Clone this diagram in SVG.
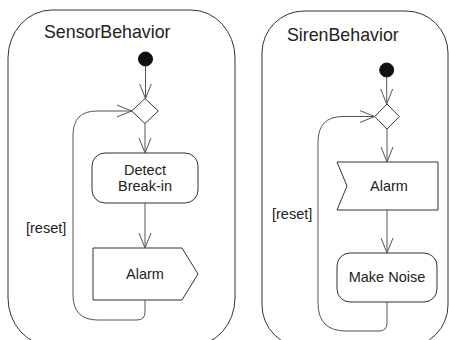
<svg xmlns="http://www.w3.org/2000/svg" width="449" height="340" viewBox="0 0 449 340">
<defs>
<style>
.frame{fill:#fff;stroke:#333;stroke-width:1}
.node{fill:#fff;stroke:#333;stroke-width:1}
.edge{fill:none;stroke:#555;stroke-width:1}
.init{fill:#111;stroke:#111}
.title{font-family:"Liberation Sans",Arial,sans-serif;font-size:17.8px;fill:#222}
.lbl{font-family:"Liberation Sans",Arial,sans-serif;font-size:14.5px;fill:#222}
</style>
<marker id="arr" viewBox="0 0 16 14" refX="15" refY="7" markerWidth="16" markerHeight="14" markerUnits="userSpaceOnUse" orient="auto">
<path d="M0,1 L15,7 L0,13" fill="none" stroke="#555" stroke-width="1"/>
</marker>
</defs>
<rect width="449" height="340" fill="#fff"/>

<g id="SensorBehavior">
<rect class="frame" x="8" y="10" width="227" height="336" rx="44" ry="48"/>
<text class="title" x="44" y="37.5">SensorBehavior</text>
</g>
<g id="SirenBehavior">
<rect class="frame" x="262" y="11" width="186" height="336" rx="42" ry="42"/>
<text class="title" x="287" y="40.5">SirenBehavior</text>
</g>

<g id="s_init"><circle class="init" cx="145.5" cy="59" r="7"/></g>
<g id="s_decision"><polygon class="node" points="145,98.5 158.3,111 145,123.5 131.7,111"/></g>
<g id="s_detect">
<rect class="node" x="92" y="153" width="106" height="50" rx="13"/>
<text class="lbl" x="145" y="175" text-anchor="middle">Detect</text>
<text class="lbl" x="145" y="191" text-anchor="middle">Break-in</text>
</g>
<g id="s_alarm">
<polygon class="node" points="93,248 182,248 198,274 182,300 93,300"/>
<text class="lbl" x="145" y="279" text-anchor="middle">Alarm</text>
</g>
<text class="lbl" x="26" y="233">[reset]</text>

<g id="r_init"><circle class="init" cx="386.7" cy="70" r="7"/></g>
<g id="r_decision"><polygon class="node" points="387,104 399.3,116.5 387,129 374.7,116.5"/></g>
<g id="r_alarm">
<polygon class="node" points="337,162 438,162 438,210 337,210 347,186"/>
<text class="lbl" x="389" y="191" text-anchor="middle">Alarm</text>
</g>
<g id="r_noise">
<rect class="node" x="337" y="253" width="100" height="49" rx="13"/>
<text class="lbl" x="387" y="282" text-anchor="middle">Make Noise</text>
</g>
<text class="lbl" x="272" y="219">[reset]</text>

<g id="connectors">
<path class="edge" d="M145.5,66 L145.5,98.5" marker-end="url(#arr)"/>
<path class="edge" d="M145,123.5 L145,153" marker-end="url(#arr)"/>
<path class="edge" d="M145,203 L145,248" marker-end="url(#arr)"/>
<path class="edge" d="M145,300 L145,312 Q145,320 137,320 L98,320 Q73,320 73,295 L73,135 Q73,111 97,111 L131.7,111" marker-end="url(#arr)"/>
<path class="edge" d="M386.7,77 L386.7,104" marker-end="url(#arr)"/>
<path class="edge" d="M387,129 L387,162" marker-end="url(#arr)"/>
<path class="edge" d="M387,210 L387,253" marker-end="url(#arr)"/>
<path class="edge" d="M387,302 L387,323 Q387,331 379,331 L346,331 Q318,331 318,303 L318,142 Q318,116.5 343,116.5 L374.7,116.5" marker-end="url(#arr)"/>
</g>
</svg>
